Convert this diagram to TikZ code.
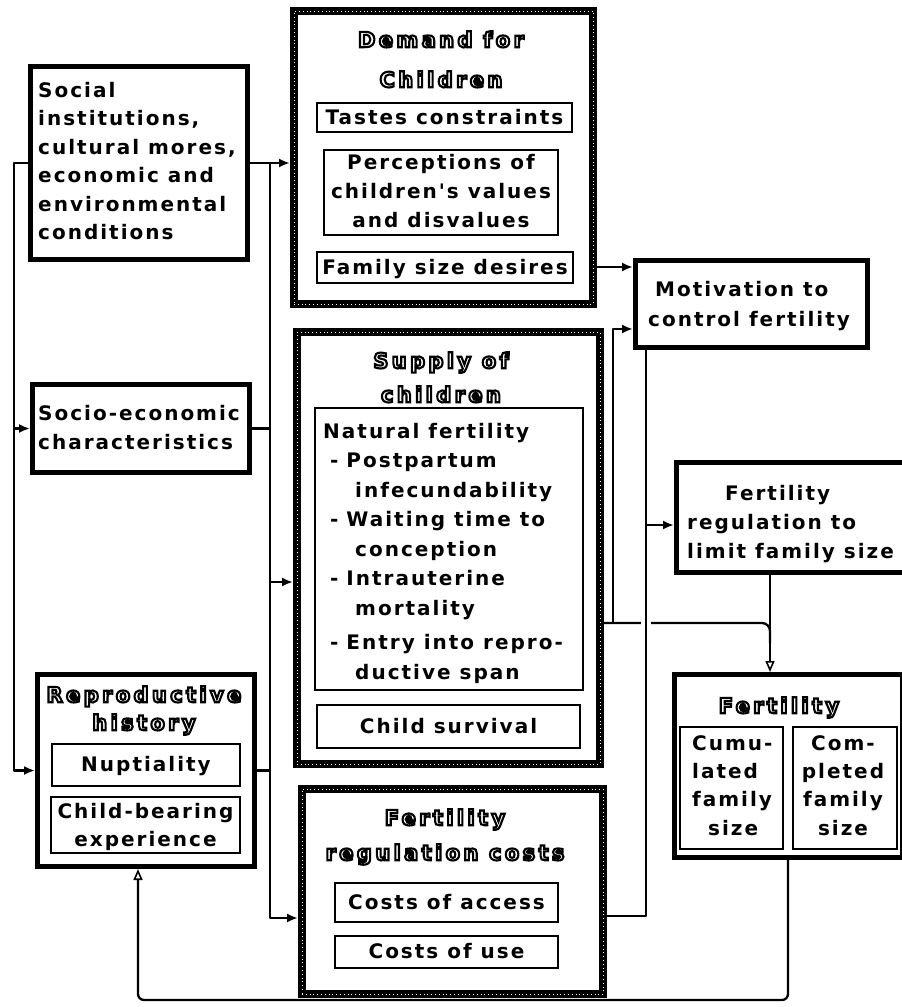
\documentclass[tikz,border=0pt]{standalone}
\usepackage{fontspec}
\usetikzlibrary{arrows.meta,calc,backgrounds}
\newfontfamily\bodyf{DejaVu Sans Bold}[LetterSpace=10]
\newfontfamily\titlef{DejaVu Sans Bold}[LetterSpace=16]
\newcommand\ttl[1]{\special{pdf:literal direct 2 Tr 2.1 w 1 g 0 G}#1\special{pdf:literal direct 0 Tr 0 g 0 G}}
\newcommand\fs{\rule{0pt}{20pt}}
\tikzset{
  heavy/.style={draw=black, line width=8pt, fill=white, inner sep=0pt,
    postaction={draw=white, fill=none, line width=0.7pt, dash pattern=on 0.7pt off 3.1pt}},
  bbox/.style={draw=black, line width=5pt, fill=white, inner sep=0pt},
  thin/.style={draw=black, line width=1.6pt, fill=white, inner sep=0pt,
    font=\bodyf\fontsize{20}{28}\selectfont, align=center, text height=15pt, text depth=2pt},
  txtL/.style={inner sep=0pt, anchor=north west, align=left, font=\bodyf\fontsize{20}{28.5}\selectfont},
  txtC/.style={inner sep=0pt, anchor=north, align=center, font=\bodyf\fontsize{20}{28.5}\selectfont},
  ttlC/.style={inner sep=0pt, anchor=north, align=center, font=\titlef\fontsize{21}{40}\selectfont},
  conn/.style={line width=2.3pt, line join=round},
  arr/.style={conn, -{Latex[length=11pt,width=9pt]}},
  oarr/.style={conn, -{Triangle[open,length=11pt,width=9pt,line width=1.6pt]}},
}
\begin{document}
\begin{tikzpicture}[x=1pt,y=-1pt]
\useasboundingbox (0,0) rectangle (902,1007);
\clip (0,0) rectangle (902,1007);

% ---------- main boxes ----------
\node[heavy, minimum width=299pt, minimum height=293pt] (dem) at (443.5,157.5) {};
\node[heavy, minimum width=303pt, minimum height=432pt] (sup) at (448.5,548) {};
\node[heavy, minimum width=301pt, minimum height=205pt] (frc) at (452.5,891.5) {};
\node[bbox, minimum width=217pt, minimum height=193pt] (soc) at (139,163) {};
\node[bbox, minimum width=217pt, minimum height=88pt] (sec) at (141,428.5) {};
\node[bbox, minimum width=217pt, minimum height=192pt] (rh) at (146,770.5) {};
\node[bbox, minimum width=232pt, minimum height=87pt] (mot) at (751.5,304) {};
\node[bbox, minimum width=233pt, minimum height=110pt] (frl) at (793,517.5) {};
\node[bbox, minimum width=228pt, minimum height=183pt] (fert) at (788.5,766) {};

% ---------- inner boxes ----------
\node[thin, minimum width=255pt, minimum height=29pt] (taste) at (444.5,117.5) {Tastes constraints};
\node[thin, minimum width=234pt, minimum height=85pt] (perc) at (441,192.5) {};
\node[thin, minimum width=256pt, minimum height=31pt] (fsd) at (445,267.5) {Family size desires};
\node[thin, minimum width=268pt, minimum height=282pt] (nat) at (449,549) {};
\node[thin, minimum width=263pt, minimum height=43pt] (csv) at (448.5,726.5) {Child survival};
\node[thin, minimum width=223pt, minimum height=39pt] (cacc) at (446.5,902.5) {Costs of access};
\node[thin, minimum width=223pt, minimum height=32pt] (cuse) at (446.5,952) {Costs of use};
\node[thin, minimum width=188pt, minimum height=42pt] (nup) at (146,765) {Nuptiality};
\node[thin, minimum width=189pt, minimum height=56pt] (cbe) at (145.5,825) {};
\node[thin, minimum width=103pt, minimum height=122pt] (cum) at (731.5,788) {};
\node[thin, minimum width=104pt, minimum height=122pt] (comp) at (845,788) {};

% ---------- texts ----------
\node[txtL] (soct) at (38,77) {\fs Social\\institutions,\\cultural mores,\\economic and\\environmental\\conditions};
\node[txtL, font=\bodyf\fontsize{20}{29}\selectfont] (sect) at (38,400) {\fs Socio-economic\\characteristics};
\node[ttlC, font=\titlef\fontsize{21}{28}\selectfont] (rht) at (144,682) {\fs\ttl{Reproductive}\\\ttl{history}};
\node[txtC, font=\bodyf\fontsize{20}{28}\selectfont] (cbet) at (145.5,798) {\fs Child-bearing\\experience};
\node[ttlC] (demt) at (441,27) {\fs\ttl{Demand for}\\\ttl{Children}};
\node[txtC, font=\bodyf\fontsize{20}{29}\selectfont] (perct) at (441,149) {\fs Perceptions of\\children's values\\and disvalues};
\node[ttlC, font=\titlef\fontsize{21}{34}\selectfont] (supt) at (441,348) {\fs\ttl{Supply of}\\\ttl{children}};
\node[txtL, font=\bodyf\fontsize{20}{29.5}\selectfont] (natt) at (323,418) {\fs Natural fertility\\
  \hspace*{7pt}-\hspace{8pt}Postpartum\\\hspace*{32pt}infecundability\\
  \hspace*{7pt}-\hspace{8pt}Waiting time to\\\hspace*{32pt}conception\\
  \hspace*{7pt}-\hspace{8pt}Intrauterine\\\hspace*{32pt}mortality\\[5pt]
  \hspace*{7pt}-\hspace{8pt}Entry into repro-\\\hspace*{32pt}ductive span};
\node[ttlC, font=\titlef\fontsize{21}{35}\selectfont] (frct) at (445,805) {\fs\ttl{Fertility}\\\ttl{regulation costs}};
\node[txtL, font=\bodyf\fontsize{20}{30}\selectfont] (mott) at (648,276) {\fs\hspace*{7pt}Motivation to\\control fertility};
\node[txtL, font=\bodyf\fontsize{20}{29}\selectfont] (frlt) at (687,480) {\fs\hspace*{38pt}Fertility\\regulation to\\limit family size};
\node[ttlC] (fertt) at (779,693) {\fs\ttl{Fertility}};
\node[txtL, font=\bodyf\fontsize{20}{28.3}\selectfont] (cumt) at (692,730) {\fs Cumu-\\lated\\family\\\hspace*{16pt}size};
\node[txtC, font=\bodyf\fontsize{20}{28.3}\selectfont] (compt) at (843,730) {\fs Com-\\pleted\\family\\size};

% ---------- connectors ----------
\coordinate (lx) at (14,0);
\coordinate (rx) at (270,0);
\coordinate (ys) at (0,582);
\coordinate (ya) at (0,918);
\coordinate (yd) at (0,267);
\coordinate (ym) at (0,329);
\coordinate (yh) at (0,623);
\coordinate (yb) at (0,916);
\coordinate (yr) at (0,525);
\coordinate (yf) at (0,1000);
\coordinate (vx) at (613,0);
\coordinate (wx) at (646,0);
\coordinate (fx) at (770,0);
\coordinate (gx) at (788,0);
\coordinate (hx) at (138,0);

\begin{scope}[on background layer]
\fill[white] (0,0) rectangle (902,1007);
% left bus
\draw[arr] (soc.west) -- (lx |- soc.west) -- (lx |- rh.west) -- (rh.west);
\draw[arr] (lx |- sec.west) -- (sec.west);
% right bus
\draw[arr] (soc.east) -- (dem.west |- soc.east);
\draw[arr] (rx |- soc.east) -- (rx |- ya) -- (frc.west |- ya);
\draw[conn] (sec.east) -- (rx |- sec.east);
\draw[conn] (rh.east) -- (rx |- rh.east);
\draw[arr] (rx |- ys) -- (sup.west |- ys);
% right side
\draw[arr] (dem.east |- yd) -- (mot.west |- yd);
\draw[conn, rounded corners=8pt] (sup.east |- yh) -- (fx |- yh) -- ($(fx |- yh)+(0,20)$);
\draw[arr] (vx |- yh) -- (vx |- ym) -- (mot.west |- ym);
\draw[conn, preaction={draw=white, line width=10pt}] (wx |- mot.south) -- (wx |- yb) -- (frc.east |- yb);
\draw[arr] (wx |- yr) -- (frl.west |- yr);
\draw[oarr] (fx |- frl.south) -- (fx |- fert.north);
\draw[oarr, rounded corners=6pt] (gx |- fert.south) -- (gx |- yf) -- (hx |- yf) -- (hx |- rh.south);
\end{scope}
\end{tikzpicture}
\end{document}
